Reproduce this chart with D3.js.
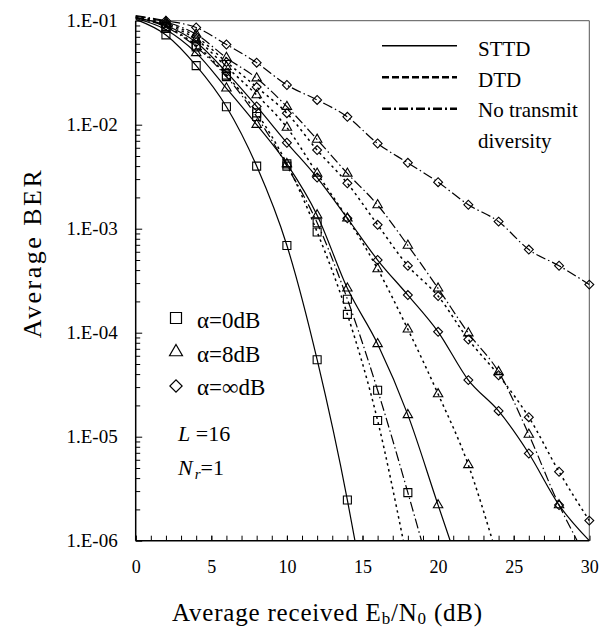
<!DOCTYPE html>
<html>
<head>
<meta charset="utf-8">
<script src="https://cdn.jsdelivr.net/npm/d3@7"></script>
<style>
body { margin: 0; background: #fff; }
</style>
</head>
<body>
<div id="chart"></div>
<script>
// Eb/N0 grid (dB) where BER was read
var ebno = [0, 2, 4, 6, 8, 10, 12, 14, 16, 18, 20, 22, 24, 26, 28, 30];

// BER values, aligned with ebno (curves stop when they leave the chart)
var sttdA0  = [0.103, 0.073, 0.037, 0.0149, 0.0040, 0.00069, 0.000055, 0.00000246];
var dtdA0   = [0.106, 0.088, 0.058, 0.030, 0.013, 0.0042, 0.00093, 0.00015, 0.0000143];
var notdA0  = [0.107, 0.087, 0.056, 0.029, 0.012, 0.0040, 0.00114, 0.00021, 0.000028, 0.0000029];
var sttdA8  = [0.105, 0.082, 0.049, 0.0224, 0.010, 0.0042, 0.00135, 0.000267, 0.000078, 0.0000162, 0.0000022];
var dtdA8   = [0.108, 0.092, 0.066, 0.036, 0.0193, 0.0094, 0.0034, 0.00126, 0.00041, 0.000108, 0.0000257, 0.00000535];
var notdA8  = [0.110, 0.097, 0.074, 0.044, 0.028, 0.0149, 0.0072, 0.0034, 0.00169, 0.00069, 0.000267, 0.000099, 0.000042, 0.0000105, 0.0000022];
var sttdAinf = [0.107, 0.090, 0.062, 0.032, 0.015, 0.0067, 0.0031, 0.00126, 0.00050, 0.00023, 0.000102, 0.000035, 0.0000177, 0.0000069, 0.0000022, 0.000001];
var dtdAinf  = [0.110, 0.095, 0.070, 0.040, 0.023, 0.0129, 0.0057, 0.00273, 0.00109, 0.00044, 0.000225, 0.000086, 0.000039, 0.0000154, 0.0000046, 0.00000156];
var notdAinf = [0.112, 0.100, 0.086, 0.059, 0.0395, 0.0241, 0.0173, 0.0119, 0.0066, 0.0043, 0.0028, 0.0017, 0.00117, 0.00063, 0.00044, 0.00029];

// Eb/N0 where each curve reaches the 1E-06 floor (null = does not reach it)
var floorDb = { sttdA0: 14.5, dtdA0: 17.7, notdA0: 18.9, sttdA8: 20.8, dtdA8: 23.6, notdA8: 29.2, sttdAinf: null, dtdAinf: null, notdAinf: null };

var schemes = ["STTD", "DTD", "No transmit diversity"];
var alphas = ["α=0dB", "α=8dB", "α=∞dB"];
var yTicks = [1e-6, 1e-5, 1e-4, 1e-3, 1e-2, 1e-1];
var xTicks = [0, 5, 10, 15, 20, 25, 30];

var series = [
  { key: "sttdA0", vals: sttdA0, scheme: 0, alpha: 0 },
  { key: "dtdA0", vals: dtdA0, scheme: 1, alpha: 0 },
  { key: "notdA0", vals: notdA0, scheme: 2, alpha: 0 },
  { key: "sttdA8", vals: sttdA8, scheme: 0, alpha: 1 },
  { key: "dtdA8", vals: dtdA8, scheme: 1, alpha: 1 },
  { key: "notdA8", vals: notdA8, scheme: 2, alpha: 1 },
  { key: "sttdAinf", vals: sttdAinf, scheme: 0, alpha: 2 },
  { key: "dtdAinf", vals: dtdAinf, scheme: 1, alpha: 2 },
  { key: "notdAinf", vals: notdAinf, scheme: 2, alpha: 2 }
];

var serif = "Liberation Serif";
var margin = { top: 20.7, left: 135.7 };
var width = 453.6, height = 520;

var svg = d3.select("#chart").append("svg")
  .attr("width", 601)
  .attr("height", 631);

var g = svg.append("g")
  .attr("transform", "translate(" + margin.left + "," + margin.top + ")");

var x = d3.scaleLinear().domain([0, 30]).range([0, width]);
var y = d3.scaleLog().domain([1e-6, 1e-1]).range([height, 0]);

// line styles per scheme
var dashes = [null, "2.5,3.5", "10,3,1.5,3"];
var widths = [1.2, 1.5, 1.2];

// marker shapes per alpha
function markerPath(a, size) {
  if (a == 0) return d3.symbol().type(d3.symbolSquare).size(size * size)();
  if (a == 1) return d3.symbol().type(d3.symbolTriangle).size(size * size * 0.6)();
  return d3.symbol().type(d3.symbolSquare).size(size * size * 0.62)();
}

// minor ticks
var minorY = [];
for (var k = -6; k < -1; k++) {
  for (var m = 2; m <= 9; m++) minorY.push(m * Math.pow(10, k));
}

g.append("g")
  .call(d3.axisLeft(y).tickValues(minorY).tickSizeInner(-4.5).tickSizeOuter(0).tickFormat(""))
  .call(function(s) { s.select(".domain").remove(); });

g.append("g")
  .call(d3.axisLeft(y).tickValues(yTicks).tickSizeInner(-6.5).tickSizeOuter(0).tickPadding(18)
    .tickFormat(function(d) { return "1.E-" + String(Math.round(-Math.log10(d))).padStart(2, "0"); }))
  .call(function(s) { s.select(".domain").remove(); })
  .selectAll("text")
    .attr("font-family", serif)
    .attr("font-size", 19);

g.append("g")
  .attr("transform", "translate(0," + height + ")")
  .call(d3.axisBottom(x).tickValues(d3.range(0, 31, 1)).tickSizeInner(-5).tickSizeOuter(0).tickFormat(""))
  .call(function(s) { s.select(".domain").remove(); });

g.append("g")
  .attr("transform", "translate(0," + height + ")")
  .call(d3.axisBottom(x).tickValues(xTicks).tickSizeInner(-5).tickSizeOuter(0).tickPadding(19.5))
  .call(function(s) { s.select(".domain").remove(); })
  .selectAll("text")
    .attr("font-family", serif)
    .attr("font-size", 18);

// frame
g.append("line").attr("x1", 0).attr("x2", width).attr("y1", 0).attr("y2", 0).attr("stroke", "#555").attr("stroke-width", 1);
g.append("line").attr("x1", width).attr("x2", width).attr("y1", 0).attr("y2", height).attr("stroke", "#555").attr("stroke-width", 1);
g.append("line").attr("x1", 0).attr("x2", 0).attr("y1", 0).attr("y2", height).attr("stroke", "#000").attr("stroke-width", 1.5);
g.append("line").attr("x1", 0).attr("x2", width).attr("y1", height).attr("y2", height).attr("stroke", "#000").attr("stroke-width", 1.5);

var line = d3.line()
  .x(function(d) { return x(d.db); })
  .y(function(d) { return y(d.ber); })
  .curve(d3.curveMonotoneX);

series.forEach(function(s) {
  var pts = s.vals.map(function(v, i) { return { db: ebno[i], ber: v }; });
  if (floorDb[s.key] != null) pts.push({ db: floorDb[s.key], ber: 1e-6 });

  g.append("path")
    .datum(pts)
    .attr("fill", "none")
    .attr("stroke", "#000")
    .attr("stroke-width", widths[s.scheme])
    .attr("stroke-dasharray", dashes[s.scheme])
    .attr("d", line);

  g.selectAll(".m-" + s.key)
    .data(pts.filter(function(d) { return d.db >= 2 && d.ber > 1e-6; }))
    .enter().append("path")
    .attr("class", "m-" + s.key)
    .attr("transform", function(d) {
      return "translate(" + x(d.db) + "," + y(d.ber) + ")" + (s.alpha == 2 ? " rotate(45)" : "");
    })
    .attr("d", markerPath(s.alpha, 8))
    .attr("fill", "none")
    .attr("stroke", "#000")
    .attr("stroke-width", 1.1);
});

// scheme legend (line styles)
var legDash = [null, "7,3", "9,3,2,3"];
schemes.forEach(function(name, i) {
  var ly = 45.7 + i * 31.5;
  svg.append("line")
    .attr("x1", 382).attr("x2", 457)
    .attr("y1", ly).attr("y2", ly)
    .attr("stroke", "#000")
    .attr("stroke-width", i == 0 ? 1.5 : 2.5)
    .attr("stroke-dasharray", legDash[i]);
});

function label(xp, yp, size, str) {
  var t = svg.append("text")
    .attr("x", xp).attr("y", yp)
    .attr("font-family", serif)
    .attr("font-size", size);
  if (str) t.text(str);
  return t;
}

label(478, 56, 21, "STTD");
label(478, 87, 21, "DTD");
label(478, 117, 21, "No transmit");
label(478, 147.5, 21, "diversity");

// alpha legend (markers)
alphas.forEach(function(name, i) {
  var cy = 318 + i * 34;
  svg.append("path")
    .attr("transform", "translate(176," + cy + ")" + (i == 2 ? " rotate(45)" : ""))
    .attr("d", markerPath(i, 11))
    .attr("fill", "none")
    .attr("stroke", "#000")
    .attr("stroke-width", 1.2);
  label(197, 328 + i * 33.5, 23, name);
});

var t1 = label(178, 441, 22, null);
t1.append("tspan").attr("font-style", "italic").text("L");
t1.append("tspan").text(" =16");

var t2 = label(178, 475, 22, null);
t2.append("tspan").attr("font-style", "italic").text("N");
t2.append("tspan").attr("font-style", "italic").attr("font-size", 15).attr("dx", 2).attr("dy", 4).text("r");
t2.append("tspan").attr("dy", -4).text("=1");

// axis titles
var xt = label(172, 621, 25, null).attr("letter-spacing", 0.8);
xt.append("tspan").text("Average received E");
xt.append("tspan").attr("font-size", 17).attr("dy", 3).text("b");
xt.append("tspan").attr("dy", -3).text("/N");
xt.append("tspan").attr("font-size", 17).attr("dy", 3).text("0");
xt.append("tspan").attr("dy", -3).text(" (dB)");

svg.append("text")
  .attr("transform", "translate(41,253) rotate(-90)")
  .attr("text-anchor", "middle")
  .attr("font-family", serif)
  .attr("font-size", 26)
  .attr("letter-spacing", 2.5)
  .text("Average BER");
</script>
</body>
</html>
